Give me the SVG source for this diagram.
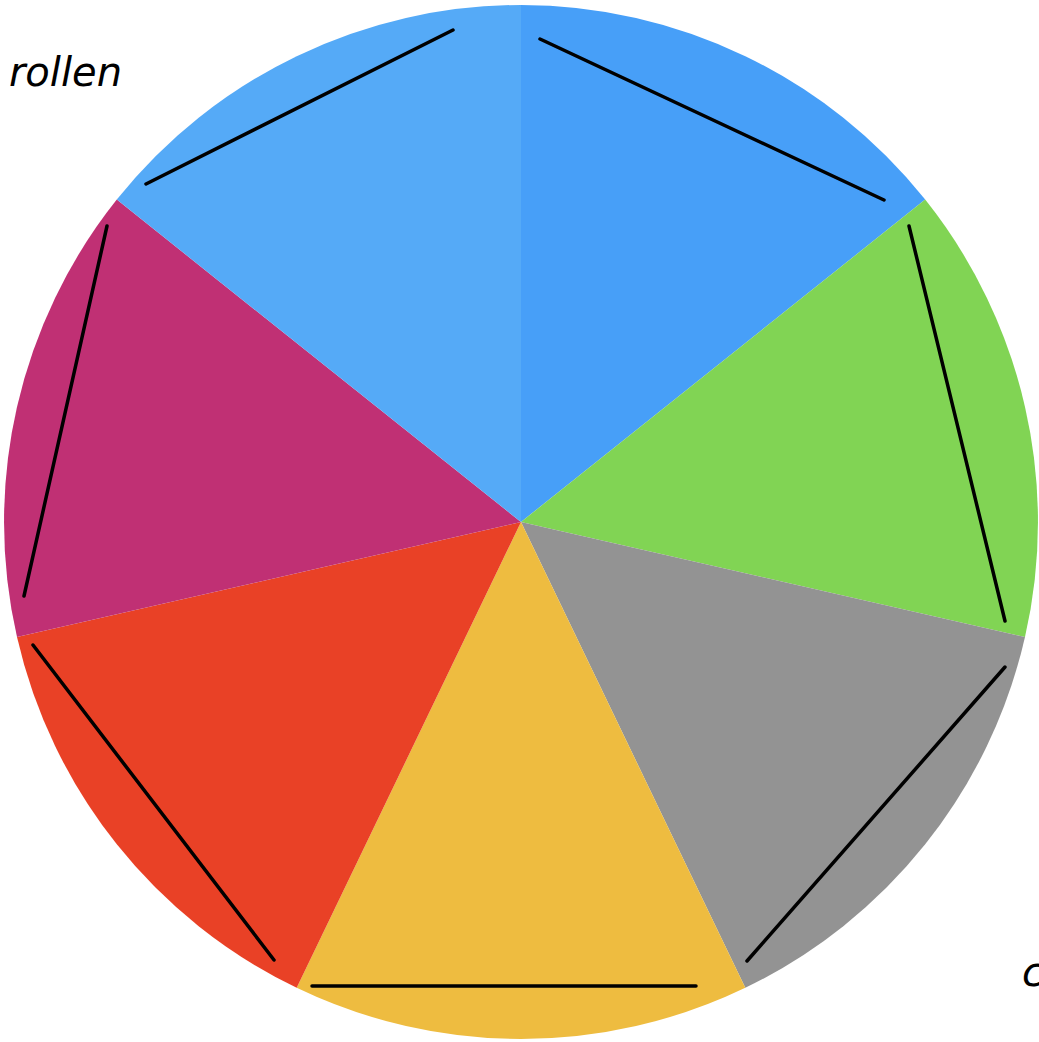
<svg xmlns="http://www.w3.org/2000/svg" width="1039" height="1042" viewBox="0 0 1039 1042">
<style>
.chord{stroke:#000;stroke-width:3.5;stroke-linecap:round;fill:none}
.hand{font-family:"DejaVu Sans","Liberation Sans",sans-serif;font-style:italic;font-size:40px;fill:#000}
</style>
<rect width="1039" height="1042" fill="#fff"/>
<g id="slices">
<path id="s1" d="M521,522 L521,5 A517,517 0 0 1 925.2,199.6 Z" fill="#479FF8"/>
<path id="s2" d="M521,522 L925.2,199.6 A517,517 0 0 1 1025,637 Z" fill="#81D454"/>
<path id="s3" d="M521,522 L1025,637 A517,517 0 0 1 745.3,987.8 Z" fill="#939393"/>
<path id="s4" d="M521,522 L745.3,987.8 A517,517 0 0 1 296.7,987.8 Z" fill="#EEBC40"/>
<path id="s5" d="M521,522 L296.7,987.8 A517,517 0 0 1 17,637 Z" fill="#E94126"/>
<path id="s6" d="M521,522 L17,637 A517,517 0 0 1 116.8,199.6 Z" fill="#C03074"/>
<path id="s7" d="M521,522 L116.8,199.6 A517,517 0 0 1 521,5 Z" fill="#55AAF7"/>
</g>
<g id="connectors">
<line class="chord" x1="540" y1="39" x2="884" y2="200"/>
<line class="chord" x1="909" y1="226" x2="1005" y2="621"/>
<line class="chord" x1="1005" y1="667" x2="747" y2="961"/>
<line class="chord" x1="312" y1="986" x2="696" y2="986"/>
<line class="chord" x1="33" y1="645" x2="274" y2="960"/>
<line class="chord" x1="24" y1="596" x2="107" y2="226"/>
<line class="chord" x1="146" y1="184" x2="453" y2="30"/>
</g>
<g id="labels">
<text class="hand" x="122" y="86" text-anchor="end">rollen</text>
<text class="hand" x="1022" y="986">c</text>
</g>
</svg>
